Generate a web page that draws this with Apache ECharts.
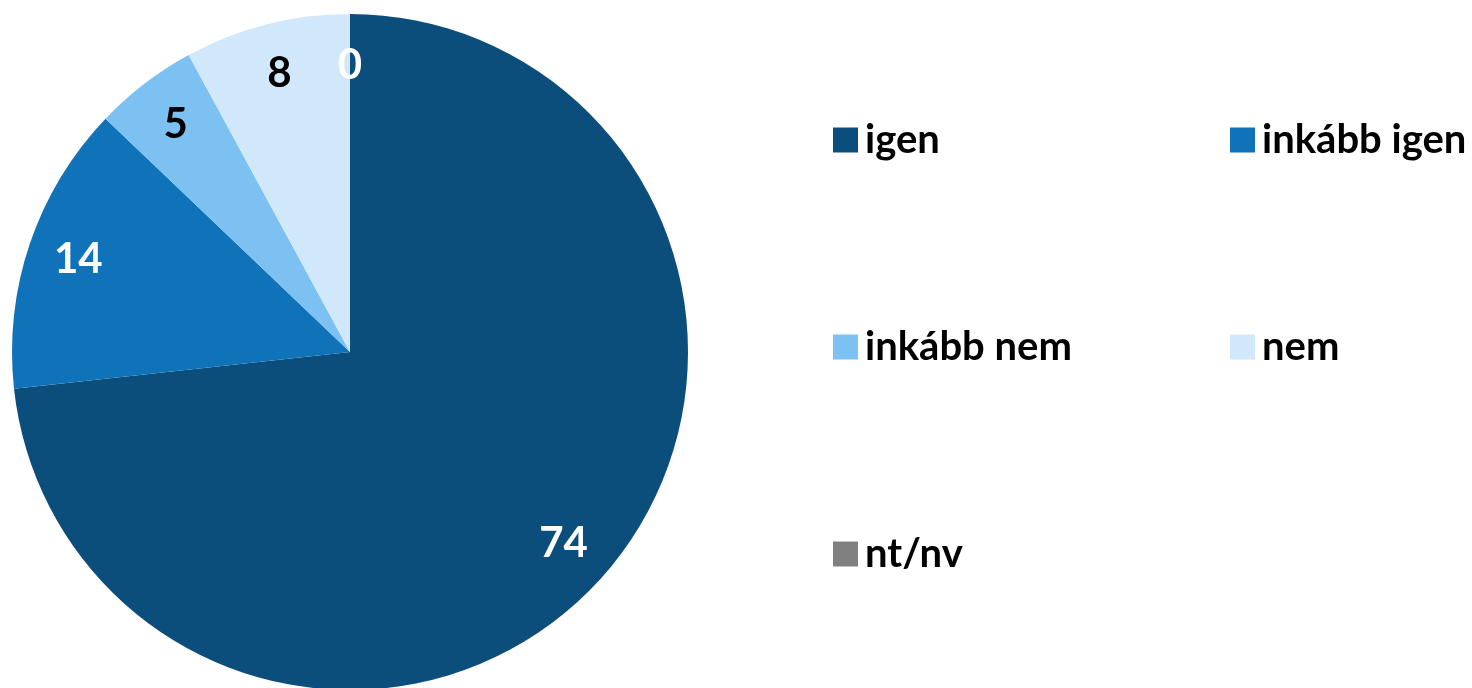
<!DOCTYPE html>
<html>
<head>
<meta charset="utf-8">
<script src="https://cdn.jsdelivr.net/npm/echarts@6/dist/echarts.min.js"></script>
<style>
	html, body { margin: 0; padding: 0; background: #fff; }
	#chart { width: 1472px; height: 688px; }
</style>
</head>
<body>
<div id="chart"></div>
<script>
const categories = ["igen", "inkább igen", "inkább nem", "nem", "nt/nv"]
const values = [74, 14, 5, 8, 0]
const colors = ["#0c4e7b", "#1072b8", "#7cc1f2", "#d1e8fa", "#808080"]
const labelColors = ["#fff", "#fff", "#000", "#000", "#fff"]

const FONT = "Lato"
const R = 338
const center = [350, 352]

const chart = echarts.init(document.getElementById("chart"))

const pieData = categories.map((c, i) => ({
	name: c,
	value: values[i],
	itemStyle: { color: colors[i] },
}))

const labelData = categories.map((c, i) => ({
	name: c,
	value: values[i],
	itemStyle: { color: "rgba(0,0,0,0)" },
	label: { color: labelColors[i] },
}))

const legendText = {
	fontFamily: FONT,
	fontWeight: "bold",
	fontSize: 40,
	color: "#000",
	lineHeight: 44,
	padding: [0, 0, 0, 2],
}

const legendBase = {
	orient: "vertical",
	icon: "rect",
	itemWidth: 25,
	itemHeight: 25,
	itemGap: 163,
	top: 113,
	selectedMode: false,
	textStyle: legendText,
}

const options = {
	animation: false,
	legend: [
		{
			...legendBase,
			left: 828,
			data: [0, 2, 4].map((i) => ({ name: categories[i], itemStyle: { color: colors[i] } })),
		},
		{
			...legendBase,
			left: 1225,
			data: [1, 3].map((i) => ({ name: categories[i], itemStyle: { color: colors[i] } })),
		},
	],
	series: [
		{
			type: "pie",
			center: center,
			radius: [0, R],
			startAngle: 90,
			clockwise: true,
			silent: true,
			label: { show: false },
			labelLine: { show: false },
			itemStyle: { borderWidth: 0 },
			data: pieData,
		},
		{
			// transparent ring only to place the value labels at ~0.84 R
			type: "pie",
			center: center,
			radius: [R * 0.68, R],
			startAngle: 90,
			clockwise: true,
			silent: true,
			label: {
				show: true,
				position: "inside",
				formatter: "{c}",
				fontFamily: FONT,
				fontWeight: "bold",
				fontSize: 42,
			},
			labelLine: { show: false },
			itemStyle: { borderWidth: 0 },
			data: labelData,
		},
	],
}

chart.setOption(options)
</script>
</body>
</html>
